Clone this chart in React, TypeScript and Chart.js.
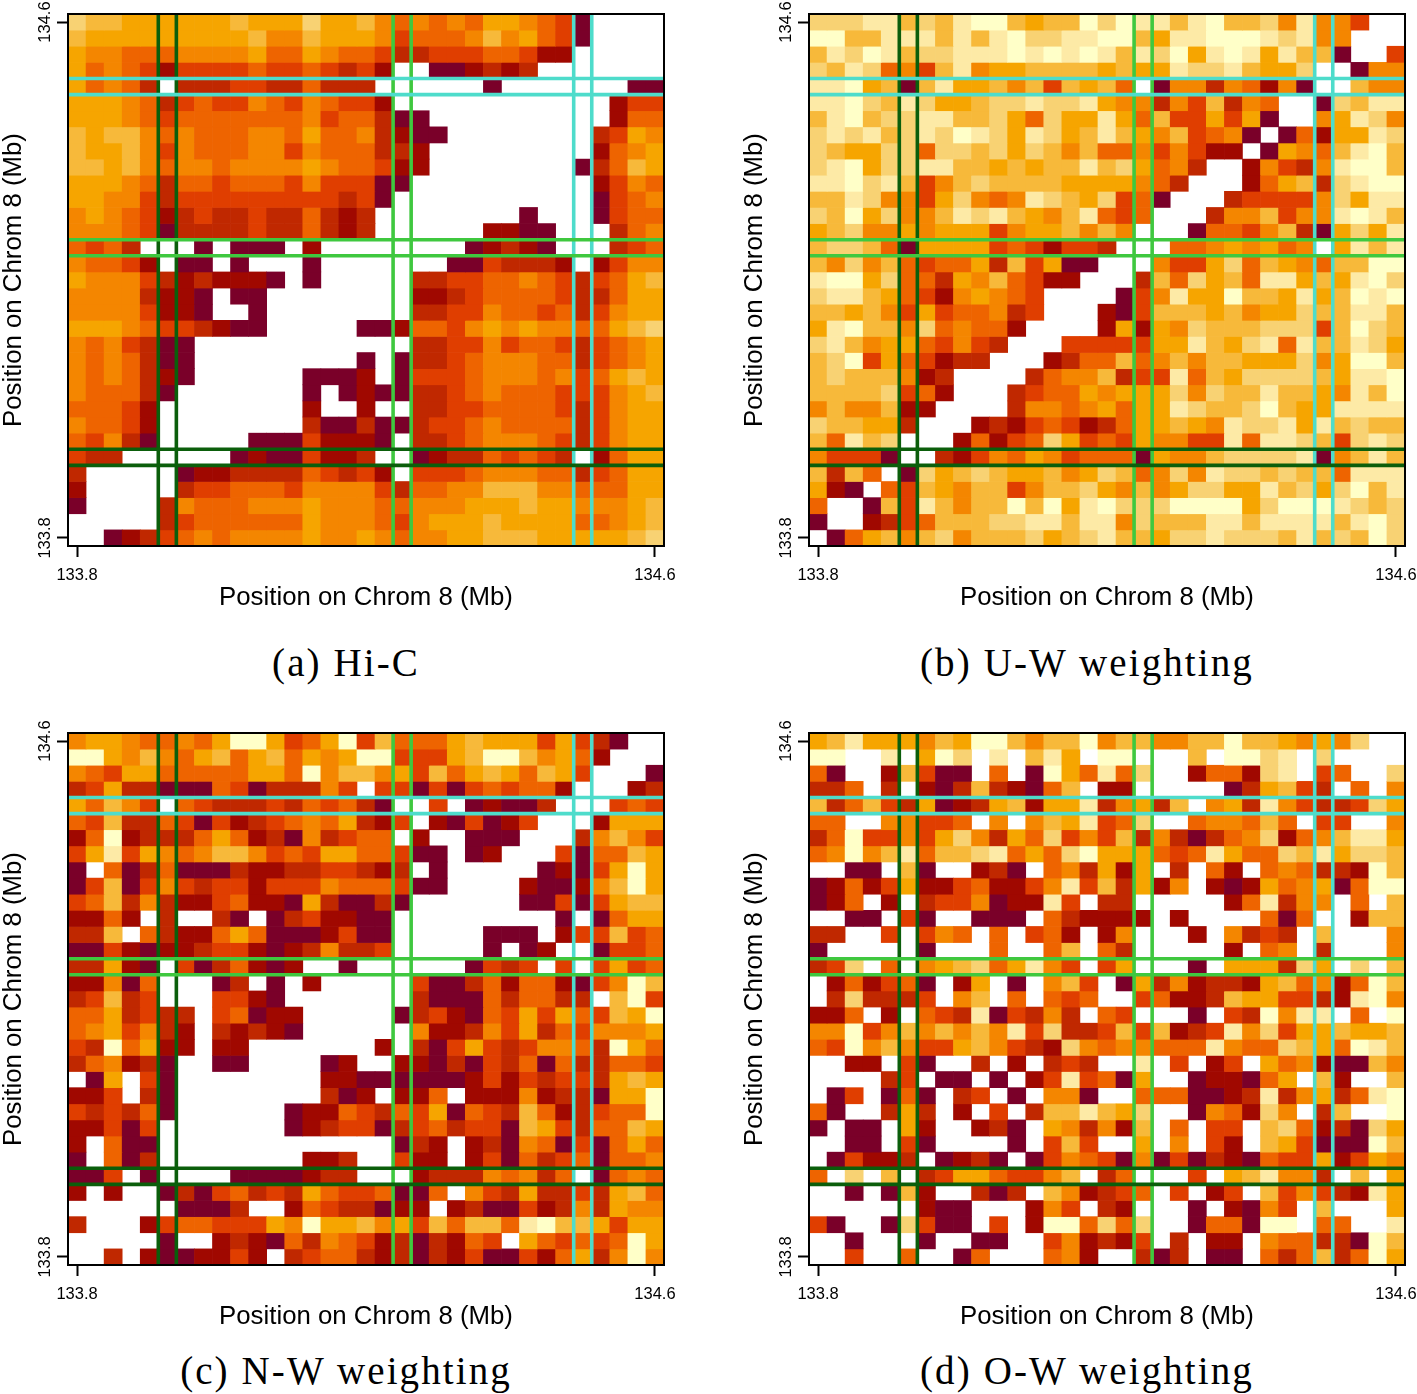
import React, { useEffect, useRef } from "react";
import { Chart, registerables } from "chart.js";

Chart.register(...registerables);

// Cell colour levels: "." = no value (white), 1 = darkest ... b = lightest.
const LEVELS = "123456789ab";
const LEVEL_COLORS = ["#7A0029", "#A00800", "#C02800", "#E03E00", "#EE6400", "#F48600", "#F6A500", "#F7B93A", "#F8D273", "#FDEAA6", "#FFFFC8"];

const FIRST_BIN = 133.8;
const BIN_SIZE = 0.025;
const TICK_VALUES = [133.8, 134.6];
const AXIS_TITLE = "Position on Chrom 8 (Mb)";

const DARK_REGION = [133.9125, 133.9375];
const GREEN_REGION = [134.2375, 134.2625];
const CYAN_REGION = [134.4875, 134.5125];

const HIC_ROWS = [
  "9 8 8 7 7 7 7 7 7 8 7 7 7 9 7 7 8 6 5 6 5 6 5 7 7 6 5 4 1 . . . .",
  "8 7 7 7 7 7 7 7 7 7 8 6 6 8 7 7 7 6 4 5 5 5 6 8 6 7 5 4 1 . . . .",
  "7 6 6 5 5 5 6 6 6 6 7 5 5 7 6 5 5 4 3 3 4 4 4 5 5 4 2 2 . . . . .",
  "7 5 6 5 4 2 4 4 4 4 5 4 4 5 4 3 4 2 . . 1 1 2 3 2 3 . . . . . . .",
  "7 5 6 5 3 . 3 3 3 4 4 3 3 5 3 3 3 . . . . . . 1 . . . . . . . 1 1",
  "7 7 7 6 5 3 4 5 4 4 6 5 4 6 5 4 4 2 . . . . . . . . . . . . 2 4 4",
  "7 7 7 6 5 4 5 5 5 5 5 5 5 6 4 5 5 3 1 1 . . . . . . . . . . 2 5 5",
  "8 7 8 8 6 5 6 5 5 5 6 6 5 7 5 5 6 3 2 1 1 . . . . . . . . 3 4 7 6",
  "8 7 7 8 6 4 6 5 5 5 6 6 4 6 5 5 5 3 3 2 . . . . . . . . . 2 5 6 7",
  "8 8 7 8 6 5 6 6 5 6 6 6 6 7 6 5 5 4 2 2 . . . . . . . . 1 3 5 8 7",
  "7 7 7 6 5 3 5 5 4 5 5 5 4 6 4 4 4 1 1 . . . . . . . . . . 2 4 6 5",
  "7 7 6 6 4 3 4 4 4 4 4 4 4 4 4 3 4 1 . . . . . . . . . . . 1 4 5 6",
  "6 7 6 5 4 2 3 4 3 3 4 3 3 5 3 2 3 . . . . . . . . 1 . . . 1 4 5 5",
  "6 6 6 5 4 1 3 3 3 3 4 3 3 5 3 2 3 . . . . . . 2 2 1 1 . . . 3 5 6",
  "5 4 5 3 . . . 1 . 1 1 1 . 2 . . . . . . . . 1 2 3 2 1 . . . 3 4 5",
  "6 5 5 4 2 . 1 1 . 1 . . . 1 . . . . . . . 1 1 4 3 3 3 2 . 2 4 6 6",
  "7 6 6 6 4 3 2 3 2 2 2 1 . 1 . . . . . 3 3 4 4 5 5 6 5 4 3 4 5 7 8",
  "6 6 6 6 3 2 2 1 . 1 1 . . . . . . . . 2 2 3 4 5 5 5 5 4 3 3 5 7 7",
  "6 6 6 6 4 2 2 1 . . 1 . . . . . . . . 3 3 4 4 6 5 5 4 5 3 4 6 7 7",
  "7 7 7 6 5 4 4 3 2 1 1 . . . . . 1 1 2 5 5 4 6 7 6 7 6 6 5 5 7 8 9",
  "6 5 6 4 3 1 1 . . . . . . . . . . . . 3 3 4 4 6 4 5 5 4 3 4 5 6 7",
  "6 5 6 5 3 1 1 . . . . . . . . . 1 . 1 3 3 4 5 6 6 6 5 5 3 4 5 6 7",
  "6 5 6 5 3 2 1 . . . . . . 1 1 1 2 . 1 4 4 4 5 6 6 6 5 6 4 5 7 8 7",
  "6 5 5 5 3 1 . . . . . . . 1 . 1 2 1 1 3 3 4 5 6 5 5 5 4 4 4 6 7 8",
  "5 5 5 4 2 . . . . . . . . 2 . . 2 . . 3 3 4 4 5 5 5 5 4 3 4 6 7 7",
  "6 5 5 4 2 . . . . . . . . 3 1 1 3 1 1 3 4 4 5 6 5 5 5 5 3 4 6 7 7",
  "5 4 6 3 1 . . . . . 1 1 1 4 2 2 2 1 . 3 3 4 5 6 6 6 5 4 3 4 6 7 7",
  "4 3 3 . . . . . . 1 2 1 1 4 2 2 3 . . 1 2 3 3 5 4 5 4 3 . 2 5 7 7",
  "3 . . . . . 1 2 2 3 3 3 3 5 4 3 4 2 . 4 4 4 5 6 6 6 5 5 3 4 5 7 7",
  "2 . . . . . 3 4 4 5 5 5 4 6 6 6 6 4 3 5 5 6 6 8 8 8 6 6 5 5 5 7 7",
  "1 . . . . 3 6 5 5 5 6 6 6 7 6 6 6 5 5 6 6 6 7 7 7 8 7 7 6 6 6 7 8",
  ". . . . . 3 4 5 5 5 5 5 5 7 6 6 6 5 4 6 7 7 7 8 7 7 7 7 5 5 6 7 8",
  ". . 1 2 3 4 5 6 5 6 6 6 6 7 6 6 7 6 5 6 6 7 7 8 8 8 7 7 7 7 7 8 9",
];

const UW_ROWS = [
  "9 9 9 a a 8 9 8 a b b 8 7 8 8 b 9 b a a 8 a b 8 8 9 6 a 6 6 4 . .",
  "b b 8 8 a a a 8 a 8 a b 9 9 a a b b 8 7 a a b b b a 9 a 6 6 . . .",
  "8 a 9 b a 8 9 9 a a a b a b a b a 8 a 9 b 7 a b a 7 a 8 8 1 . . 4",
  "9 8 a 9 5 6 4 8 a 6 7 7 8 8 8 8 7 8 7 7 a 9 9 a 8 7 7 9 . . 1 6 6",
  "a a b 7 8 1 8 a 7 7 8 6 8 4 8 7 8 5 . 1 6 6 3 6 5 2 6 1 . . 8 6 6",
  "a a b 9 8 a 9 7 7 8 9 9 a 9 9 a 7 6 6 3 6 4 8 3 6 5 . . 1 9 8 a a",
  "8 a b 8 9 9 a a 8 8 9 7 5 9 7 7 a 7 5 8 4 4 7 4 7 1 . . 6 7 a 9 6",
  "9 a 9 a 8 9 a 9 b a 9 7 a 9 7 8 a 8 7 6 8 4 5 6 1 . 1 5 2 7 7 a 9",
  "9 8 7 7 9 9 5 9 9 8 9 7 9 8 6 8 5 5 6 4 6 4 2 2 . 1 7 6 5 8 a b 8",
  "9 a b 7 9 9 a a 8 8 7 8 7 8 8 a 8 9 7 5 6 3 . . 2 6 4 3 6 a b b 8",
  "a a b 9 a 8 4 6 8 9 8 8 8 8 7 7 7 7 6 5 3 . . . 2 5 7 8 3 9 a b b",
  "8 8 a 9 6 6 4 7 9 6 5 6 a 9 8 7 9 4 5 1 . . . 3 4 4 4 4 6 9 7 a a",
  "9 8 b 7 9 6 6 8 a 9 a 8 7 6 8 a 5 4 5 . . . 3 6 6 8 4 6 6 a b a 8",
  "7 8 9 6 6 7 6 7 7 7 4 6 7 7 8 6 8 6 . . . 1 5 5 4 6 8 3 1 7 9 7 a",
  "8 9 9 8 5 1 7 7 7 7 4 5 4 2 4 4 3 . . . 5 5 6 7 6 7 5 6 . 7 a 8 a",
  "8 6 9 6 8 5 4 5 5 7 3 8 4 7 1 1 . . . 6 4 4 7 9 5 8 7 6 5 8 8 b b",
  "a b b 7 9 5 5 3 7 6 8 5 4 2 2 . . . 3 8 5 9 7 8 5 a a 7 8 7 a b 9",
  "9 a a 8 7 5 4 2 6 7 6 5 4 . . . . 1 4 6 a 7 7 b 8 8 7 a 7 8 b a b",
  "8 8 7 8 6 4 7 4 5 5 6 3 4 . . . 2 1 4 8 8 8 7 8 6 7 7 9 8 8 a a 8",
  "7 a b 8 8 6 9 5 6 5 5 2 . . . . 2 7 2 7 6 9 8 8 8 9 9 9 4 8 b 9 8",
  "9 a 8 6 7 7 5 4 6 4 3 . . . 4 4 4 4 4 7 7 a 8 7 9 a 5 a 8 8 a 9 7",
  "8 9 b 4 7 5 4 2 3 3 . . . 2 3 5 5 8 5 6 8 6 8 8 7 7 7 9 6 7 b b 8",
  "8 9 8 8 8 6 2 3 . . . . 3 5 6 6 8 3 4 4 a 5 8 7 9 9 9 9 8 7 a a b",
  "8 8 8 8 9 4 5 2 . . . 3 4 5 5 7 6 7 7 7 9 6 9 8 8 a 8 8 7 6 a 8 b",
  "6 8 6 6 8 2 2 . . . . 3 6 6 5 6 7 5 7 7 a 9 8 8 9 b 8 7 7 a a a a",
  "9 8 8 7 7 3 . . . 2 3 2 4 5 4 2 3 5 7 7 8 7 6 a 9 9 a 7 a 8 9 8 8",
  "8 5 a 8 9 . . . 2 5 2 4 5 9 7 4 5 4 7 6 6 4 4 a 5 a a 9 8 4 9 a 9",
  "6 4 4 4 1 . . 3 2 4 6 5 7 6 4 5 5 5 1 7 6 6 8 9 9 9 9 a 1 6 8 a 8",
  "8 3 8 5 . 1 9 7 8 9 8 7 7 8 6 7 9 8 5 6 9 6 a 9 9 8 9 8 8 5 a a a",
  "7 2 1 . 5 4 8 7 6 8 8 4 6 8 8 9 7 6 8 6 7 9 9 7 7 a 8 9 7 9 b 8 a",
  "5 . . 1 8 4 a 8 6 8 8 b 8 b 7 a b 9 9 9 b b b b 7 9 b b b a 9 8 9",
  "1 . . 2 3 4 5 8 8 8 9 9 a a 8 a a 6 9 8 8 8 a a 8 a a a a 8 a b 9",
  ". 1 5 7 8 6 8 9 6 8 8 8 9 7 8 9 a 8 8 7 9 9 a 9 9 9 8 a 8 9 8 b 9",
];

const NW_ROWS = [
  "6 7 7 6 5 5 6 5 7 b b 7 4 5 7 b 4 8 5 5 5 7 8 7 7 7 4 7 4 3 1 . .",
  "b b 7 6 8 6 5 7 8 5 7 8 5 7 6 7 b b 4 4 4 7 8 b b 8 6 7 5 2 . . .",
  "6 5 4 7 7 5 5 5 5 5 7 7 5 b 6 8 8 6 7 4 8 5 7 8 7 5 8 7 4 . . . 1",
  "3 4 7 3 3 1 1 1 5 4 1 3 3 3 6 4 . 4 4 1 4 1 4 5 4 5 5 2 . . . 2 3",
  "7 5 8 6 4 . 5 4 3 3 3 4 3 5 4 5 3 1 . . 4 . 1 2 1 1 3 . . . 4 5 4",
  "5 4 8 3 3 5 4 1 4 2 3 4 5 6 5 7 3 2 4 . 2 1 4 1 2 4 . . . 2 7 7 7",
  "2 5 b 2 3 3 3 5 7 5 2 3 1 6 3 4 5 5 . 2 . . 1 1 1 . . . 3 6 8 6 4",
  "4 7 a 4 7 6 5 6 8 8 6 4 5 4 7 7 5 5 4 1 1 . 1 2 . . . 4 1 5 5 8 7",
  "1 . 5 1 3 5 1 1 1 3 2 2 3 3 4 4 3 2 3 . 1 . . . . . 1 2 1 4 7 b 7",
  "1 4 8 1 4 6 4 3 4 4 2 4 4 4 6 5 5 5 4 1 1 . . . . 2 1 1 2 6 8 b 7",
  "4 5 8 3 6 3 2 2 4 5 2 2 1 7 3 1 1 3 1 . . . . . . 1 1 4 1 4 7 8 8",
  "2 2 5 2 . 3 . . 3 1 . 1 3 4 2 2 1 1 . . . . . . . . . 1 . 1 5 7 7",
  "3 3 8 . 5 3 2 2 5 7 5 1 1 1 2 4 1 1 . . . . . 1 1 1 . 2 4 4 8 4 5",
  "1 1 4 2 1 2 2 3 4 4 2 1 2 3 6 3 3 4 . . . . . 1 . 1 2 . . 1 4 4 5",
  "3 3 7 2 1 . 4 1 3 5 2 1 2 . . 1 . . . . . . 1 4 3 4 . 4 . 4 7 4 5",
  "2 2 6 1 5 . . . 1 3 . 1 . 2 . . . . . 4 1 1 3 5 2 5 5 2 1 4 6 b 8",
  "3 4 8 3 4 . . . 4 4 2 1 . . . . . . . 3 1 1 1 5 3 5 5 3 3 . 8 b 4",
  "5 5 7 3 4 3 3 . 4 5 1 2 2 . . . . . 1 3 4 2 1 5 4 7 4 7 5 4 8 7 b",
  "5 6 7 4 6 3 2 . 3 2 3 2 1 . . . . . . 6 2 2 3 6 4 7 3 5 4 6 6 6 7",
  "4 3 b 5 7 2 2 . 2 2 . . . . . . . 2 . 3 1 4 7 4 3 4 6 6 5 3 b 7 5",
  "3 5 6 2 3 1 . . 1 1 . . . . 1 2 . . 2 2 1 3 1 4 3 5 1 5 3 3 5 5 4",
  ". 1 7 . 4 1 . . . . . . . . 2 2 1 1 1 1 1 1 2 4 2 4 3 4 4 3 7 8 7",
  "2 2 4 . 3 1 . . . . . . . . 3 1 2 . 2 2 5 . 2 2 2 6 2 3 3 1 7 7 b",
  "4 3 4 3 5 1 . . . . . . 1 2 2 5 4 3 5 4 7 1 5 4 3 8 5 2 3 4 5 5 b",
  "2 2 4 1 4 . . . . . . . 1 2 3 4 4 1 3 4 5 3 4 4 1 8 7 4 3 5 5 8 7",
  "2 . 5 1 1 . . . . . . . . . . . . . 1 3 2 . 2 3 1 6 5 1 4 1 5 7 5",
  "1 . 5 1 3 . . . . . . . . 2 2 3 . . 4 2 2 . 2 4 1 5 3 4 5 1 5 5 6",
  "1 1 4 . 1 . . . . 1 1 1 1 2 3 3 . . . 2 3 3 3 6 5 6 3 5 . 1 5 6 5",
  "2 . 2 . . 1 3 1 4 5 3 4 3 7 5 4 4 5 1 1 5 . 6 4 3 7 3 3 4 3 7 8 5",
  ". . . . . . 1 1 1 3 . . 2 5 4 3 3 1 2 2 . 2 3 1 1 4 2 3 6 3 7 6 6",
  "3 . . . 2 4 5 5 4 4 4 7 6 b 7 7 8 6 7 4 8 5 8 8 5 a b 8 8 7 4 7 7",
  ". . . . . 1 . . 2 3 2 1 5 3 6 5 4 2 3 1 3 2 5 4 . 7 5 4 5 4 5 b 7",
  ". . 3 . 2 1 1 2 2 4 2 . 3 4 5 5 3 2 3 1 3 2 4 1 1 4 2 5 7 3 6 b 6",
];

const OW_ROWS = [
  "7 8 a 7 7 7 6 8 7 b b 8 6 8 8 b 6 8 8 6 6 8 8 b 8 8 7 6 7 6 9 . .",
  "b b . . a . 7 b 9 . a . 8 a 7 . b b . . . 8 . b b 9 a . 9 . . . .",
  "5 1 . . 2 8 4 1 1 . 5 . 1 b 7 5 a 5 9 . . 2 5 5 2 9 a . 4 5 . . 9",
  "3 3 5 . 3 . 2 1 3 8 3 2 1 5 8 . 2 2 . . . . . 1 3 7 8 4 3 . 5 . 6",
  "8 3 5 8 4 3 7 1 2 3 7 8 2 7 7 a 3 6 7 3 8 . 6 7 3 a 6 4 3 3 4 9 7",
  "5 5 . . 6 6 4 4 5 . 6 . 6 8 7 a 4 5 9 . . 5 6 6 5 8 5 . 4 4 . . 6",
  "3 5 b 4 4 6 4 7 9 6 3 7 5 9 4 6 4 8 3 6 3 1 3 5 6 9 2 5 6 8 a a 7",
  "5 6 b 6 8 a 5 8 8 9 a 5 7 5 9 b 7 7 7 5 4 5 a 7 5 5 9 8 a 7 9 9 8",
  ". . 1 1 . 8 1 . . 2 3 1 . 5 6 3 7 2 7 . 3 . 5 2 . 5 6 5 3 3 2 b 8",
  "1 2 5 2 4 7 2 2 4 5 2 2 4 6 a 4 8 3 7 2 6 . 2 1 2 7 5 6 7 1 5 b b",
  "1 2 5 . 2 . 3 4 4 6 1 2 2 a 4 . 3 3 . . . . . 2 5 a 3 6 6 . 5 . 8",
  ". . 1 1 . 4 1 . . 1 1 1 . 5 3 2 2 2 2 . 2 . . . . 5 1 5 . . 2 8 8",
  "3 3 . . 4 . 4 6 5 . 5 . 4 5 2 . 2 6 . . . 2 . 6 3 4 3 . 8 . . . 6",
  "1 . . . . . 1 . . . 5 . . 5 8 . 5 3 . . . . . 2 . 5 6 . 3 . . . 6",
  "3 4 9 . 5 . 6 7 8 9 5 7 a 6 4 . 4 7 . . . 1 . 7 7 7 3 9 7 . 9 . 8",
  ". 2 5 2 4 5 1 . 2 7 . 1 . 6 8 4 . 1 7 3 6 2 3 3 2 7 8 5 6 2 5 b 8",
  ". 3 9 3 3 3 4 . 6 8 . 5 . 5 4 5 . . 4 5 2 2 3 8 7 7 4 4 3 2 a b 6",
  "2 2 5 . 2 . 5 4 3 a 1 4 3 6 3 . 5 4 . . . 1 . 4 3 b 6 a a . 5 . b",
  "6 6 b 4 6 8 6 8 6 8 6 a 4 9 3 3 4 8 4 8 2 3 4 a 6 9 4 7 7 8 7 7 8",
  "5 4 b 6 8 6 4 4 7 8 6 4 3 2 9 6 5 6 6 5 5 5 a 6 5 5 9 8 7 5 b a 8",
  ". . 2 2 . 4 1 . . 3 . 2 . 3 4 3 . . a . 4 . 2 4 . 7 5 6 2 1 1 8 6",
  ". . . . 3 4 . 1 1 . 1 . 2 4 a 4 5 1 7 . . 1 2 2 1 5 7 . 8 2 . . 8",
  ". 1 4 . 1 5 1 . 3 4 . 1 . 6 6 1 . . 5 5 5 1 1 2 3 a 3 6 7 3 5 a b",
  "5 1 . . 3 7 3 . 2 . 4 . 3 8 8 a 8 7 9 . . 1 6 5 2 9 6 . 3 8 . . b",
  "1 . 1 1 . 7 2 . . 2 3 1 . 7 6 3 6 2 8 . 5 . 4 4 . 8 9 5 2 3 1 9 7",
  ". . 1 1 . 4 1 . . . . 1 . 4 8 4 . . 7 . 6 . 4 2 . 8 7 4 1 1 1 b 8",
  ". 1 4 2 2 3 . 1 2 3 1 . 1 4 6 5 4 1 6 1 4 1 3 2 1 5 4 4 7 2 4 7 6",
  "5 . 9 . 8 . 3 4 7 7 5 4 4 6 8 . 3 5 . . . 4 . 7 8 a 6 6 3 . 8 . 7",
  ". . 1 . 1 8 2 . . 3 1 3 . 8 6 2 3 4 5 . 4 . 2 4 . 8 4 6 4 3 2 a 7",
  ". . . . . . 2 1 1 . . . 2 6 4 . 3 2 . . . 1 . 2 1 6 4 . 8 . . . 7",
  "4 1 . . 1 9 4 1 1 . 4 . 2 b b 5 9 5 9 . . 1 5 5 1 b b . 5 5 . . a",
  ". . 1 . . . 1 . . 1 1 . . 4 6 2 3 2 4 . 3 . 2 2 . 6 5 5 3 3 1 b 8",
  ". . 4 . . 5 . . 1 5 . . . 5 6 2 . . 3 1 3 . 1 1 . 5 3 5 8 3 5 b 7",
];

const PANELS = [
  { rows: HIC_ROWS, left: 0, top: 0, caption: "(a) Hi-C" },
  { rows: UW_ROWS, left: 741, top: 0, caption: "(b) U-W weighting" },
  { rows: NW_ROWS, left: 0, top: 719, caption: "(c) N-W weighting" },
  { rows: OW_ROWS, left: 741, top: 719, caption: "(d) O-W weighting" },
];

const SANS = "'Liberation Sans', Arial, sans-serif";
const SERIF = "'Liberation Serif', serif";

const boxPlugin = {
  id: "panelBox",
  afterDraw(chart: any) {
    const { ctx, chartArea: a } = chart;
    ctx.save();
    ctx.strokeStyle = "#000";
    ctx.lineWidth = 2;
    ctx.strokeRect(a.left, a.top, a.right - a.left, a.bottom - a.top);
    ctx.restore();
  },
};

function segment(points: { x: number; y: number }[], color: string, order: number) {
  return {
    type: "line",
    data: points,
    borderColor: color,
    borderWidth: 3.6,
    pointRadius: 0,
    order,
    parsing: { xAxisKey: "x", yAxisKey: "y" },
  };
}

function Panel({ rows }: { rows: string[] }) {
  const ref = useRef<HTMLCanvasElement | null>(null);
  useEffect(() => {
    const half = BIN_SIZE / 2;
    const lo = FIRST_BIN - half;
    const n = rows.length;
    const hi = FIRST_BIN + BIN_SIZE * (n - 1) + half;
    const barSets = rows.map((row, r) => {
      const tokens = row.split(" ");
      const center = FIRST_BIN + BIN_SIZE * (n - 1 - r);
      return {
        type: "bar",
        order: 3,
        data: tokens.map((t, c) => ({
          x: FIRST_BIN + BIN_SIZE * c,
          y: t === "." ? null : [center - half, center + half],
        })),
        backgroundColor: tokens.map((t) => (t === "." ? "#fff" : LEVEL_COLORS[LEVELS.indexOf(t)])),
        borderWidth: 0,
        barPercentage: 1,
        categoryPercentage: 1,
        grouped: false,
      };
    });
    const regions: [number[], string][] = [
      [DARK_REGION, "#0B5E0B"],
      [GREEN_REGION, "#3FC83F"],
      [CYAN_REGION, "#4EDCCB"],
    ];
    const vertical: any[] = [];
    const horizontal: any[] = [];
    for (const [region, color] of regions) {
      for (const v of region) {
        vertical.push(segment([{ x: v, y: lo }, { x: v, y: hi }], color, 2));
        horizontal.push(segment([{ x: lo, y: v }, { x: hi, y: v }], color, 1));
      }
    }
    const tickBuilder = (scale: any) => {
      scale.ticks = TICK_VALUES.map((value) => ({ value }));
    };
    const tickFont = { family: SANS, size: 16.5 };
    const grid = { display: true, offset: false, drawOnChartArea: false, drawTicks: true, tickLength: 11, tickWidth: 2, tickColor: "#000" };
    const chart = new Chart(ref.current as HTMLCanvasElement, {
      type: "bar",
      data: { datasets: [...barSets, ...vertical, ...horizontal] as any },
      plugins: [boxPlugin],
      options: {
        animation: false,
        responsive: false,
        layout: { padding: { top: 14, right: 16, left: 0, bottom: 0 } },
        plugins: { legend: { display: false }, tooltip: { enabled: false } },
        scales: {
          x: {
            type: "linear",
            offset: false,
            min: lo,
            max: hi,
            grid,
            border: { display: false },
            afterBuildTicks: tickBuilder,
            afterFit: (s: any) => { s.height = 74; s.paddingLeft = 0; s.paddingRight = 0; },
            ticks: { font: tickFont, color: "#000", padding: 9, maxRotation: 0, autoSkip: false, callback: (v: any) => Number(v).toFixed(1) },
            title: { display: true, text: AXIS_TITLE, color: "#000", font: { family: SANS, size: 25.8, lineHeight: 1 }, padding: { top: 0, bottom: 9 } },
          },
          y: {
            type: "linear",
            min: lo,
            max: hi,
            grid,
            border: { display: false },
            afterBuildTicks: tickBuilder,
            afterFit: (s: any) => { s.width = 68; s.paddingTop = 0; s.paddingBottom = 0; },
            ticks: { font: tickFont, color: "#000", padding: -9, minRotation: 90, maxRotation: 90, crossAlign: "center", autoSkip: false, callback: (v: any) => Number(v).toFixed(1) },
            title: { display: true, text: AXIS_TITLE, color: "#000", font: { family: SANS, size: 25.8, lineHeight: 1 }, padding: { top: 1, bottom: 1 } },
          },
        },
      } as any,
    });
    return () => chart.destroy();
  }, [rows]);
  return <canvas ref={ref} width={680} height={620} style={{ display: "block", width: 680, height: 620 }} />;
}

export default function App() {
  return (
    <div style={{ position: "absolute", left: 0, top: 0, width: 1417, height: 1394, overflow: "hidden", background: "#fff" }}>
      {PANELS.map((p) => (
        <div key={p.caption} style={{ position: "absolute", left: p.left, top: p.top, width: 680, height: 690 }}>
          <Panel rows={p.rows} />
          <div
            style={{
              position: "absolute",
              left: 0,
              width: 692,
              top: p.top ? 630 : 641,
              textAlign: "center",
              fontFamily: SERIF,
              fontSize: 39,
              lineHeight: "44px",
              letterSpacing: "2.1px",
              color: "#000",
            }}
          >
            {p.caption}
          </div>
        </div>
      ))}
    </div>
  );
}
